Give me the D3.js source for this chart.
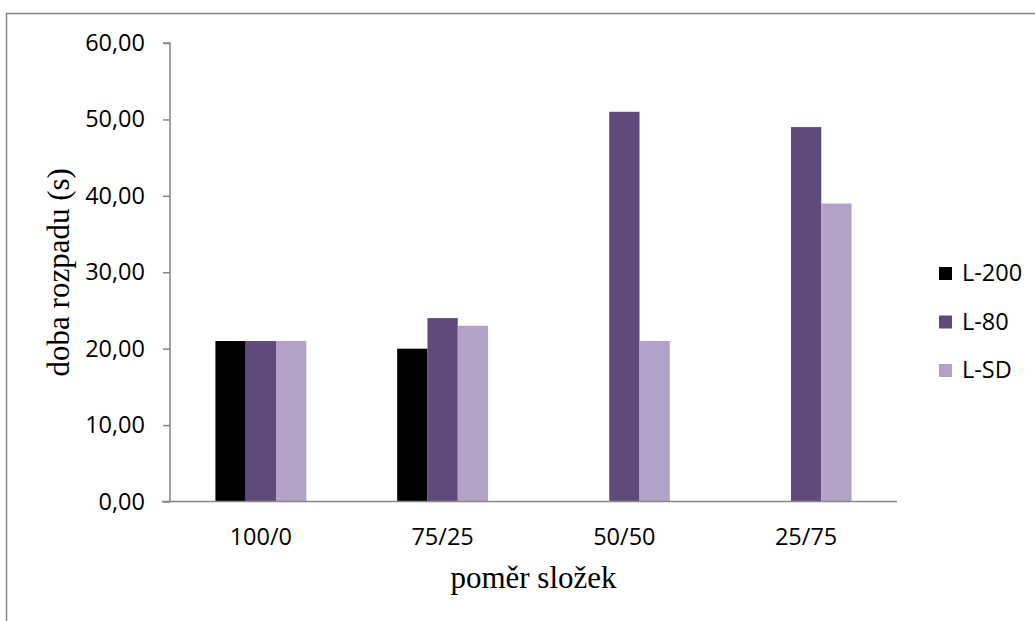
<!DOCTYPE html>
<html>
<head>
<meta charset="utf-8">
<script src="https://cdn.jsdelivr.net/npm/d3@7"></script>
<style>
  html, body { margin: 0; padding: 0; background: #fff; }
  svg { display: block; }
</style>
</head>
<body>
<svg id="chart" width="1035" height="621"></svg>
<script>
// Disintegration time per component ratio
const categories = ["100/0", "75/25", "50/50", "25/75"];
const seriesNames = ["L-200", "L-80", "L-SD"];
const valuesL200 = [21, 20, 0, 0];
const valuesL80  = [21, 24, 51, 49];
const valuesLSD  = [21, 23, 21, 39];
const yTicks = [0, 10, 20, 30, 40, 50, 60];
const colors = ["#000000", "#604A7B", "#B3A2C7"];

const seriesValues = [valuesL200, valuesL80, valuesLSD];
const rows = categories.map((c, i) => ({
  cat: c,
  vals: seriesNames.map((s, j) => ({ name: s, value: seriesValues[j][i] }))
}));

const svg = d3.select("#chart");
const axisColor = "#868686";
const sansFont = "'Open Sans', sans-serif";
const serifFont = "'Liberation Serif', 'Times New Roman', serif";
const labelSize = "23.5px";

// outer chart frame
svg.append("rect")
  .attr("x", 6.5).attr("y", 13.5)
  .attr("width", 1100).attr("height", 700)
  .attr("fill", "none")
  .attr("stroke", axisColor)
  .attr("stroke-width", 1.5);

const plot = { left: 170, right: 897, top: 43, bottom: 501.5 };

const x0 = d3.scaleBand()
  .domain(categories)
  .range([plot.left, plot.right])
  .paddingInner(0.5)
  .paddingOuter(0.25);

const x1 = d3.scaleBand()
  .domain(seriesNames)
  .range([0, x0.bandwidth()]);

const y = d3.scaleLinear()
  .domain([0, 60])
  .range([plot.bottom, plot.top]);

const color = d3.scaleOrdinal().domain(seriesNames).range(colors);

// bars
svg.append("g")
  .selectAll("g")
  .data(rows)
  .join("g")
  .attr("transform", d => `translate(${x0(d.cat)},0)`)
  .selectAll("rect")
  .data(d => d.vals)
  .join("rect")
  .attr("x", d => x1(d.name))
  .attr("y", d => y(d.value))
  .attr("width", x1.bandwidth())
  .attr("height", d => y(0) - y(d.value))
  .attr("fill", d => color(d.name));

// y axis
const yAxis = svg.append("g")
  .attr("transform", `translate(${plot.left},0)`)
  .call(d3.axisLeft(y)
    .tickValues(yTicks)
    .tickSize(7)
    .tickPadding(18)
    .tickFormat(d => d3.format(".2f")(d).replace(".", ",")));
yAxis.select(".domain").attr("stroke", axisColor).attr("stroke-width", 1.5)
  .attr("d", `M-7,${y(60)}H0V${y(0)}`);
yAxis.selectAll(".tick line").attr("stroke", axisColor).attr("stroke-width", 1.5);
yAxis.selectAll(".tick text")
  .attr("fill", "#000")
  .style("font-family", sansFont)
  .style("font-size", labelSize);

// x axis
const xAxis = svg.append("g")
  .attr("transform", `translate(0,${plot.bottom})`)
  .call(d3.axisBottom(x0).tickSize(0).tickPadding(27));
xAxis.select(".domain").attr("stroke", axisColor).attr("stroke-width", 1.5)
  .attr("d", `M${plot.left - 8},0H${plot.right}`);
xAxis.selectAll(".tick text")
  .attr("fill", "#000")
  .style("font-family", sansFont)
  .style("font-size", labelSize);

// axis titles
svg.append("text")
  .attr("transform", `translate(69,${(plot.top + plot.bottom) / 2}) rotate(-90)`)
  .attr("text-anchor", "middle")
  .style("font-family", serifFont)
  .style("font-size", "31px")
  .text("doba rozpadu (s)");

svg.append("text")
  .attr("x", (plot.left + plot.right) / 2)
  .attr("y", 588)
  .attr("text-anchor", "middle")
  .style("font-family", serifFont)
  .style("font-size", "31px")
  .text("poměr složek");

// legend
const legend = svg.append("g")
  .selectAll("g")
  .data(seriesNames)
  .join("g")
  .attr("transform", (d, i) => `translate(939,${273 + i * 48.5})`);
legend.append("rect")
  .attr("x", 0).attr("y", -6)
  .attr("width", 13).attr("height", 13)
  .attr("fill", d => color(d));
legend.append("text")
  .attr("x", 23)
  .attr("y", 0)
  .attr("dy", "0.35em")
  .style("font-family", sansFont)
  .style("font-size", labelSize)
  .text(d => d);
</script>
</body>
</html>
